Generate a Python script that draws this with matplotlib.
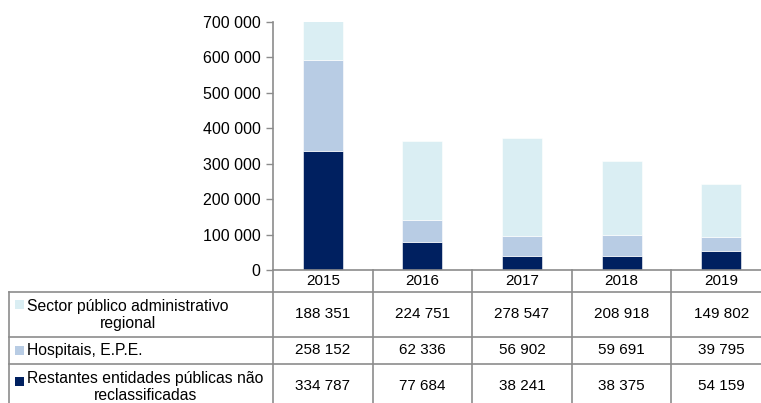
import numpy as np
import matplotlib.pyplot as plt
import matplotlib.transforms as mtransforms
from matplotlib.patches import Rectangle
from matplotlib.ticker import FuncFormatter

plt.rcParams['font.family'] = ['Liberation Sans', 'DejaVu Sans']

# data
years = ['2015', '2016', '2017', '2018', '2019']
series_names = ['Sector público administrativo\nregional',
                'Hospitais, E.P.E.',
                'Restantes entidades públicas não\nreclassificadas']
sector_publico = [188351, 224751, 278547, 208918, 149802]
hospitais = [258152, 62336, 56902, 59691, 39795]
restantes = [334787, 77684, 38241, 38375, 54159]

colors = ['#DAEEF3', '#B8CCE4', '#002060']
grid_col = '#8C8C8C'

W, H = 761, 403
fig = plt.figure(figsize=(W / 100, H / 100), dpi=100)

# axes placed in pixel units (y measured from top)
ax_left, ax_right, ax_top, ax_bottom = 273, 771, 22, 270
ax = fig.add_axes([ax_left / W, 1 - ax_bottom / H,
                   (ax_right - ax_left) / W, (ax_bottom - ax_top) / H])

x = np.arange(len(years))
bottom_stack = np.zeros(len(years))
for vals, c in [(restantes, colors[2]), (hospitais, colors[1]), (sector_publico, colors[0])]:
    ax.bar(x, vals, width=0.4, bottom=bottom_stack, color=c, edgecolor='white', linewidth=0.4)
    bottom_stack += np.array(vals)

ax.set_xlim(-0.5, len(years) - 0.5)
ax.set_ylim(0, 700000)
ax.set_yticks(np.arange(0, 700001, 100000))
ax.yaxis.set_major_formatter(FuncFormatter(lambda v, p: f'{int(v):,}'.replace(',', ' ')))
ax.tick_params(axis='y', length=5, width=1, color=grid_col, labelsize=11.5, pad=4)
ax.set_xticks([])
for s in ['top', 'right']:
    ax.spines[s].set_visible(False)
for s in ['left', 'bottom']:
    ax.spines[s].set_color(grid_col)
    ax.spines[s].set_linewidth(1.2)

# table below the axes: x in data coords, y in figure pixels from top
def fy(py):
    return 1 - py / H

trans = mtransforms.blended_transform_factory(ax.transData, fig.transFigure)
pix = mtransforms.blended_transform_factory(
    mtransforms.Affine2D().scale(1 / W, 1) + fig.transFigure, fig.transFigure)

row_edges = [292, 337, 364, 410]
header_y = 281
lw = 1.2

# vertical column separators
for b in np.arange(-0.5, len(years), 1.0):
    fig.add_artist(plt.Line2D([b, b], [fy(ax_bottom), fy(410)], transform=trans,
                              color=grid_col, lw=lw))
# left border of label column
fig.add_artist(plt.Line2D([9, 9], [fy(row_edges[0]), fy(410)], transform=pix,
                          color=grid_col, lw=lw))
# horizontal row lines
for ry in row_edges[:-1]:
    fig.add_artist(plt.Line2D([9, 800], [fy(ry), fy(ry)], transform=pix,
                              color=grid_col, lw=lw))

# header years
for i, yr in enumerate(years):
    fig.text(i, fy(header_y), yr, transform=trans, ha='center', va='center', fontsize=11)

# rows
table_rows = [sector_publico, hospitais, restantes]
row_centers = [314, 350, 386]
square_y = [304, 350, 381]
for r, (name, vals) in enumerate(zip(series_names, table_rows)):
    cy = row_centers[r]
    fig.add_artist(Rectangle((15, fy(square_y[r] + 4.5)), 9, 9 / H, transform=pix,
                             facecolor=colors[r], edgecolor='none'))
    fig.text(27, fy(cy + 1), name, transform=pix, ha='left', va='center',
             multialignment='center', fontsize=11.3, linespacing=1.2)
    for i, v in enumerate(vals):
        fig.text(i, fy(cy), f'{v:,}'.replace(',', ' '), transform=trans,
                 ha='center', va='center', fontsize=11)

fig.savefig('out.png', dpi=100)
